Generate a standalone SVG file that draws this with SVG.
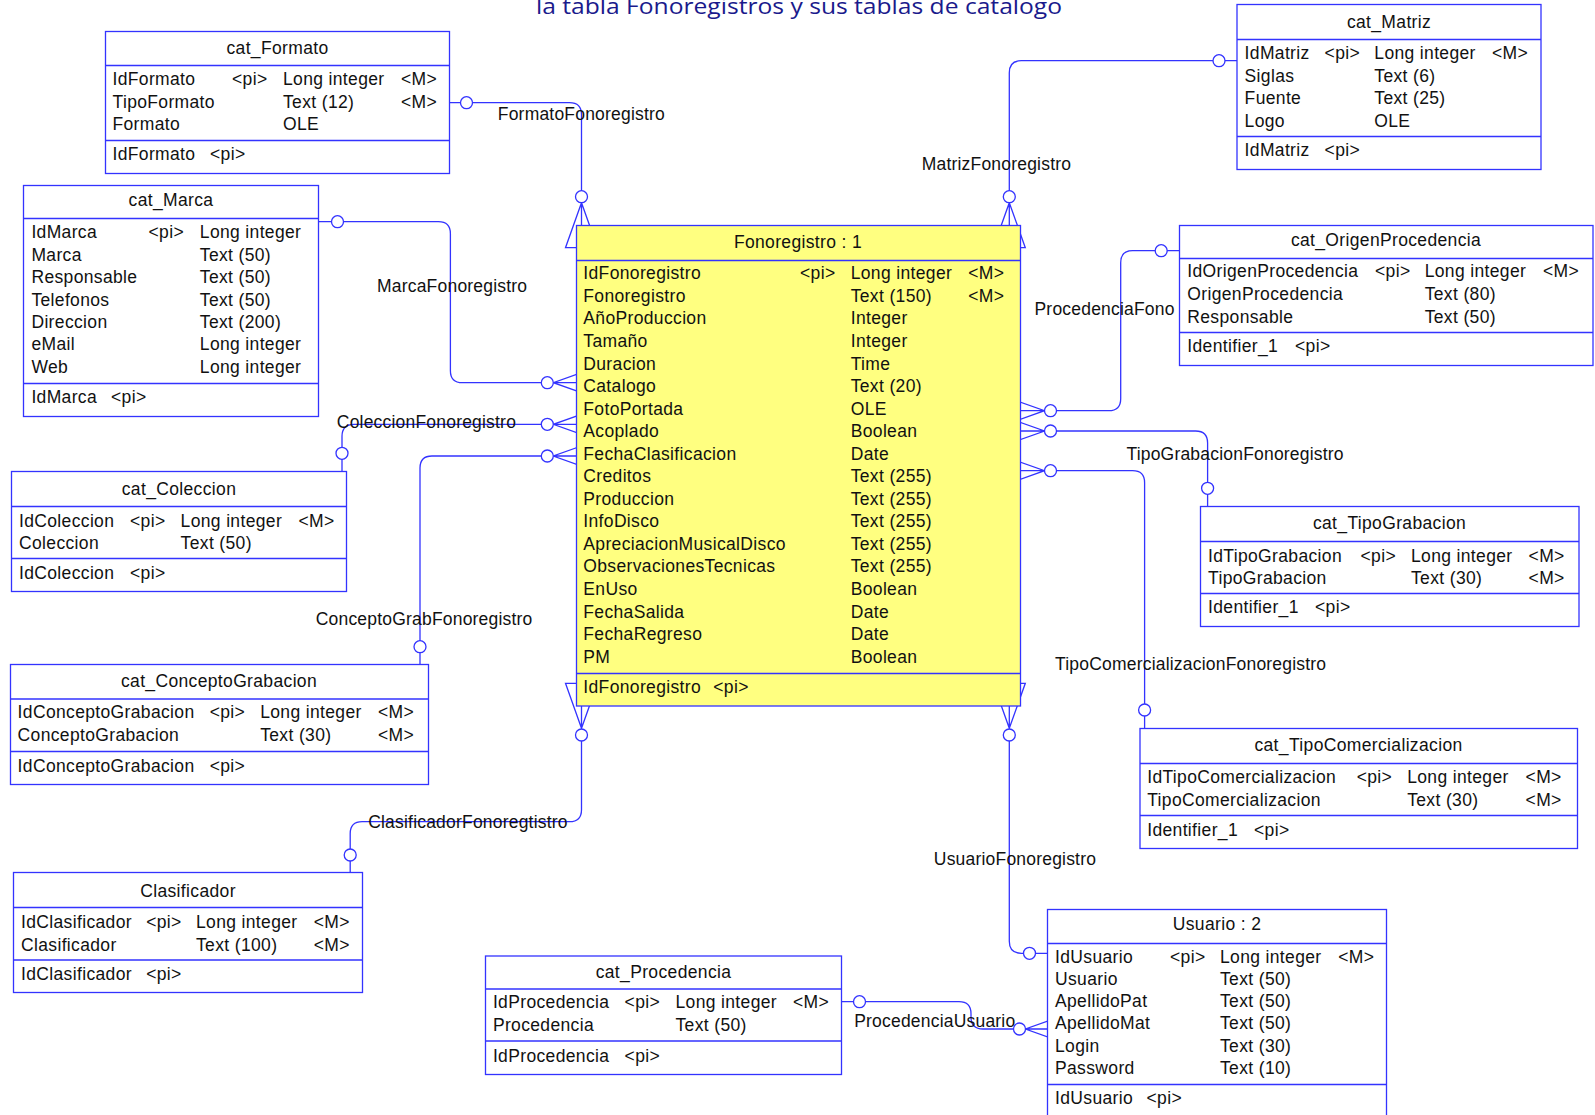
<svg xmlns="http://www.w3.org/2000/svg" xmlns:xlink="http://www.w3.org/1999/xlink" width="1595" height="1115" viewBox="0 0 1595 1115">
<style>
  text{font-family:"Liberation Sans",Arial,sans-serif;font-size:17.5px;letter-spacing:0.35px;fill:#111}
  .hd{text-anchor:middle}
  .lbl{letter-spacing:0.2px}
  .title{font-family:"Open Sans","Noto Sans",sans-serif;font-size:22px;letter-spacing:0;fill:#1a1a8c}
  .box{fill:#fff;stroke:#3333ff;stroke-width:1.3}
  .main{fill:#ffff80}
  .sep{stroke:#3333ff;stroke-width:1.3}
  .lnk{fill:none;stroke:#3333ff;stroke-width:1.3}
  .end{fill:#fff;stroke:#3333ff;stroke-width:1.3}
</style>
<defs>
  <!-- crow's foot: apex at origin, opening towards +x -->
  <path id="crow" class="lnk" d="M45,-16 L0,0 L45,16 Z M0,0 H45"/>
</defs>
<rect width="1595" height="1115" fill="#fff"/>

<text class="title" x="536" y="14" textLength="526" lengthAdjust="spacingAndGlyphs">la tabla Fonoregistros y sus tablas de catalogo</text>

<g id="connectors">
  <!-- FormatoFonoregistro -->
  <path class="lnk" d="M449.5,102.7 H569.5 Q581.5,102.7 581.5,114.7 V196"/>
  <use xlink:href="#crow" transform="translate(581.5,202.7) rotate(90)"/>
  <circle class="end" cx="466.5" cy="102.7" r="6"/>
  <circle class="end" cx="581.5" cy="196.7" r="6"/>
  <text class="lbl" x="497.8" y="120">FormatoFonoregistro</text>

  <!-- MarcaFonoregistro -->
  <path class="lnk" d="M318.5,221.7 H438.4 Q450.4,221.7 450.4,233.7 V370.7 Q450.4,382.7 462.4,382.7 H548"/>
  <use xlink:href="#crow" transform="translate(553.3,382.7)"/>
  <circle class="end" cx="337.5" cy="221.7" r="6"/>
  <circle class="end" cx="547.3" cy="382.7" r="6"/>
  <text class="lbl" x="377" y="291.7">MarcaFonoregistro</text>

  <!-- ColeccionFonoregistro -->
  <path class="lnk" d="M548,424.3 H354 Q342,424.3 342,436.3 V471.5"/>
  <use xlink:href="#crow" transform="translate(553.3,424.3)"/>
  <circle class="end" cx="547.3" cy="424.3" r="6"/>
  <circle class="end" cx="342" cy="453.3" r="6"/>
  <text class="lbl" x="336.8" y="428.3">ColeccionFonoregistro</text>

  <!-- ConceptoGrabFonoregistro -->
  <path class="lnk" d="M548,456 H432 Q420,456 420,468 V664.5"/>
  <use xlink:href="#crow" transform="translate(553.3,456)"/>
  <circle class="end" cx="547.3" cy="456" r="6"/>
  <circle class="end" cx="420" cy="646.7" r="6"/>
  <text class="lbl" x="315.7" y="625">ConceptoGrabFonoregistro</text>

  <!-- ClasificadorFonoregtistro -->
  <path class="lnk" d="M581.5,729 V809.7 Q581.5,821.7 569.5,821.7 H362.2 Q350.2,821.7 350.2,833.7 V872.5"/>
  <use xlink:href="#crow" transform="translate(581.5,728.3) rotate(-90)"/>
  <circle class="end" cx="581.5" cy="735" r="6"/>
  <circle class="end" cx="350.2" cy="855" r="6"/>
  <text class="lbl" x="368.2" y="828.3">ClasificadorFonoregtistro</text>

  <!-- MatrizFonoregistro -->
  <path class="lnk" d="M1009.3,196 V72.7 Q1009.3,60.7 1021.3,60.7 H1237"/>
  <use xlink:href="#crow" transform="translate(1009.3,202.7) rotate(90)"/>
  <circle class="end" cx="1009.3" cy="196.7" r="6"/>
  <circle class="end" cx="1219" cy="60.7" r="6"/>
  <text class="lbl" x="921.7" y="170">MatrizFonoregistro</text>

  <!-- ProcedenciaFonoregistro -->
  <path class="lnk" d="M1050,410.7 H1108.7 Q1120.7,410.7 1120.7,398.7 V262.7 Q1120.7,250.7 1132.7,250.7 H1179.5"/>
  <use xlink:href="#crow" transform="translate(1044.5,410.7) scale(-1,1)"/>
  <circle class="end" cx="1050.5" cy="410.7" r="6"/>
  <circle class="end" cx="1161.2" cy="250.7" r="6"/>
  <text class="lbl" x="1034.5" y="315">ProcedenciaFono</text>

  <!-- TipoGrabacionFonoregistro -->
  <path class="lnk" d="M1050,431 H1195.6 Q1207.6,431 1207.6,443 V506.5"/>
  <use xlink:href="#crow" transform="translate(1044.5,431) scale(-1,1)"/>
  <circle class="end" cx="1050.5" cy="431" r="6"/>
  <circle class="end" cx="1207.6" cy="488.3" r="6"/>
  <text class="lbl" x="1126.4" y="460">TipoGrabacionFonoregistro</text>

  <!-- TipoComercializacionFonoregistro -->
  <path class="lnk" d="M1050,470.7 H1132.6 Q1144.6,470.7 1144.6,482.7 V728.5"/>
  <use xlink:href="#crow" transform="translate(1044.5,470.7) scale(-1,1)"/>
  <circle class="end" cx="1050.5" cy="470.7" r="6"/>
  <circle class="end" cx="1144.6" cy="710" r="6"/>
  <text class="lbl" x="1055" y="670">TipoComercializacionFonoregistro</text>

  <!-- UsuarioFonoregistro -->
  <path class="lnk" d="M1009.3,729 V941.3 Q1009.3,953.3 1021.3,953.3 H1047.5"/>
  <use xlink:href="#crow" transform="translate(1009.3,728.3) rotate(-90)"/>
  <circle class="end" cx="1009.3" cy="735" r="6"/>
  <circle class="end" cx="1029.5" cy="953.3" r="6"/>
  <text class="lbl" x="933.8" y="865">UsuarioFonoregistro</text>

  <!-- ProcedenciaUsuario -->
  <path class="lnk" d="M841.5,1001.7 H959 Q971,1001.7 971,1013.7 V1017 Q971,1029 983,1029 H1019.5"/>
  <use xlink:href="#crow" transform="translate(1025.5,1029)"/>
  <circle class="end" cx="859.5" cy="1001.7" r="6"/>
  <circle class="end" cx="1019.5" cy="1029" r="6"/>
  <text class="lbl" x="854.2" y="1026.7">ProcedenciaUsuario</text>
</g>

<g id="cat_Formato">
  <rect class="box" x="105.5" y="31.5" width="344" height="142"/>
  <path class="sep" d="M105.5,65.5 H449.5 M105.5,140.5 H449.5"/>
  <text class="hd" x="277.5" y="54.3">cat_Formato</text>
  <text x="112.5" y="85">IdFormato</text><text x="232" y="85">&lt;pi&gt;</text><text x="283" y="85">Long integer</text><text x="401" y="85">&lt;M&gt;</text>
  <text x="112.5" y="107.7">TipoFormato</text><text x="283" y="107.7">Text (12)</text><text x="401" y="107.7">&lt;M&gt;</text>
  <text x="112.5" y="130.2">Formato</text><text x="283" y="130.2">OLE</text>
  <text x="112.5" y="160.3">IdFormato</text><text x="210" y="160.3">&lt;pi&gt;</text>
</g>

<g id="cat_Marca">
  <rect class="box" x="23.5" y="185.5" width="295" height="231"/>
  <path class="sep" d="M23.5,218.5 H318.5 M23.5,383.5 H318.5"/>
  <text class="hd" x="171" y="206">cat_Marca</text>
  <text x="31.4" y="238.3">IdMarca</text><text x="148.5" y="238.3">&lt;pi&gt;</text><text x="199.8" y="238.3">Long integer</text>
  <text x="31.4" y="260.7">Marca</text><text x="199.8" y="260.7">Text (50)</text>
  <text x="31.4" y="283.1">Responsable</text><text x="199.8" y="283.1">Text (50)</text>
  <text x="31.4" y="305.5">Telefonos</text><text x="199.8" y="305.5">Text (50)</text>
  <text x="31.4" y="327.9">Direccion</text><text x="199.8" y="327.9">Text (200)</text>
  <text x="31.4" y="350.3">eMail</text><text x="199.8" y="350.3">Long integer</text>
  <text x="31.4" y="372.7">Web</text><text x="199.8" y="372.7">Long integer</text>
  <text x="31.4" y="403.3">IdMarca</text><text x="111" y="403.3">&lt;pi&gt;</text>
</g>

<g id="cat_Coleccion">
  <rect class="box" x="11.5" y="471.5" width="335" height="120"/>
  <path class="sep" d="M11.5,506.5 H346.5 M11.5,558.5 H346.5"/>
  <text class="hd" x="179" y="495">cat_Coleccion</text>
  <text x="19" y="526.7">IdColeccion</text><text x="130" y="526.7">&lt;pi&gt;</text><text x="180.6" y="526.7">Long integer</text><text x="298.5" y="526.7">&lt;M&gt;</text>
  <text x="19" y="549.2">Coleccion</text><text x="180.6" y="549.2">Text (50)</text>
  <text x="19" y="579.3">IdColeccion</text><text x="130" y="579.3">&lt;pi&gt;</text>
</g>

<g id="cat_ConceptoGrabacion">
  <rect class="box" x="10.5" y="664.5" width="418" height="120"/>
  <path class="sep" d="M10.5,699 H428.5 M10.5,751.5 H428.5"/>
  <text class="hd" x="219" y="687.3">cat_ConceptoGrabacion</text>
  <text x="17.6" y="718.3">IdConceptoGrabacion</text><text x="209.7" y="718.3">&lt;pi&gt;</text><text x="260.2" y="718.3">Long integer</text><text x="378" y="718.3">&lt;M&gt;</text>
  <text x="17.6" y="741">ConceptoGrabacion</text><text x="260.2" y="741">Text (30)</text><text x="378" y="741">&lt;M&gt;</text>
  <text x="17.6" y="771.7">IdConceptoGrabacion</text><text x="209.7" y="771.7">&lt;pi&gt;</text>
</g>

<g id="Clasificador">
  <rect class="box" x="13.5" y="872.5" width="349" height="120"/>
  <path class="sep" d="M13.5,907.5 H362.5 M13.5,960 H362.5"/>
  <text class="hd" x="188" y="896.7">Clasificador</text>
  <text x="21" y="928.3">IdClasificador</text><text x="146.2" y="928.3">&lt;pi&gt;</text><text x="196" y="928.3">Long integer</text><text x="313.8" y="928.3">&lt;M&gt;</text>
  <text x="21" y="950.5">Clasificador</text><text x="196" y="950.5">Text (100)</text><text x="313.8" y="950.5">&lt;M&gt;</text>
  <text x="21" y="980">IdClasificador</text><text x="146.2" y="980">&lt;pi&gt;</text>
</g>

<g id="cat_Procedencia">
  <rect class="box" x="485.5" y="956" width="356" height="118.5"/>
  <path class="sep" d="M485.5,989 H841.5 M485.5,1041 H841.5"/>
  <text class="hd" x="663.5" y="977.7">cat_Procedencia</text>
  <text x="492.9" y="1008.3">IdProcedencia</text><text x="624.6" y="1008.3">&lt;pi&gt;</text><text x="675.5" y="1008.3">Long integer</text><text x="793" y="1008.3">&lt;M&gt;</text>
  <text x="492.9" y="1030.7">Procedencia</text><text x="675.5" y="1030.7">Text (50)</text>
  <text x="492.9" y="1061.7">IdProcedencia</text><text x="624.6" y="1061.7">&lt;pi&gt;</text>
</g>

<g id="Usuario">
  <rect class="box" x="1047.5" y="909.5" width="339" height="230"/>
  <path class="sep" d="M1047.5,943.5 H1386.5 M1047.5,1084.5 H1386.5"/>
  <text class="hd" x="1217" y="930">Usuario : 2</text>
  <text x="1055" y="962.7">IdUsuario</text><text x="1170" y="962.7">&lt;pi&gt;</text><text x="1220" y="962.7">Long integer</text><text x="1338.3" y="962.7">&lt;M&gt;</text>
  <text x="1055" y="984.9">Usuario</text><text x="1220" y="984.9">Text (50)</text>
  <text x="1055" y="1007.1">ApellidoPat</text><text x="1220" y="1007.1">Text (50)</text>
  <text x="1055" y="1029.3">ApellidoMat</text><text x="1220" y="1029.3">Text (50)</text>
  <text x="1055" y="1051.5">Login</text><text x="1220" y="1051.5">Text (30)</text>
  <text x="1055" y="1073.7">Password</text><text x="1220" y="1073.7">Text (10)</text>
  <text x="1055" y="1104.3">IdUsuario</text><text x="1146.5" y="1104.3">&lt;pi&gt;</text>
</g>

<g id="Fonoregistro">
  <rect class="box main" x="576.5" y="225.5" width="444" height="480.5"/>
  <path class="sep" d="M576.5,260.5 H1020.5 M576.5,673.5 H1020.5"/>
  <text class="hd" x="798" y="248.3">Fonoregistro : 1</text>
  <text x="583.3" y="279.3">IdFonoregistro</text><text x="800" y="279.3">&lt;pi&gt;</text><text x="850.7" y="279.3">Long integer</text><text x="968.3" y="279.3">&lt;M&gt;</text>
  <text x="583.3" y="301.9">Fonoregistro</text><text x="850.7" y="301.9">Text (150)</text><text x="968.3" y="301.9">&lt;M&gt;</text>
  <text x="583.3" y="324.4">AñoProduccion</text><text x="850.7" y="324.4">Integer</text>
  <text x="583.3" y="347">Tamaño</text><text x="850.7" y="347">Integer</text>
  <text x="583.3" y="369.5">Duracion</text><text x="850.7" y="369.5">Time</text>
  <text x="583.3" y="392">Catalogo</text><text x="850.7" y="392">Text (20)</text>
  <text x="583.3" y="414.6">FotoPortada</text><text x="850.7" y="414.6">OLE</text>
  <text x="583.3" y="437.1">Acoplado</text><text x="850.7" y="437.1">Boolean</text>
  <text x="583.3" y="459.7">FechaClasificacion</text><text x="850.7" y="459.7">Date</text>
  <text x="583.3" y="482.2">Creditos</text><text x="850.7" y="482.2">Text (255)</text>
  <text x="583.3" y="504.8">Produccion</text><text x="850.7" y="504.8">Text (255)</text>
  <text x="583.3" y="527.3">InfoDisco</text><text x="850.7" y="527.3">Text (255)</text>
  <text x="583.3" y="549.9">ApreciacionMusicalDisco</text><text x="850.7" y="549.9">Text (255)</text>
  <text x="583.3" y="572.4">ObservacionesTecnicas</text><text x="850.7" y="572.4">Text (255)</text>
  <text x="583.3" y="595">EnUso</text><text x="850.7" y="595">Boolean</text>
  <text x="583.3" y="617.5">FechaSalida</text><text x="850.7" y="617.5">Date</text>
  <text x="583.3" y="640.1">FechaRegreso</text><text x="850.7" y="640.1">Date</text>
  <text x="583.3" y="662.6">PM</text><text x="850.7" y="662.6">Boolean</text>
  <text x="583.3" y="693.3">IdFonoregistro</text><text x="713.3" y="693.3">&lt;pi&gt;</text>
</g>

<g id="cat_Matriz">
  <rect class="box" x="1237" y="4.5" width="304" height="165"/>
  <path class="sep" d="M1237,39.5 H1541 M1237,136.5 H1541"/>
  <text class="hd" x="1389" y="28.3">cat_Matriz</text>
  <text x="1244.6" y="59.3">IdMatriz</text><text x="1324.6" y="59.3">&lt;pi&gt;</text><text x="1374.3" y="59.3">Long integer</text><text x="1492" y="59.3">&lt;M&gt;</text>
  <text x="1244.6" y="81.7">Siglas</text><text x="1374.3" y="81.7">Text (6)</text>
  <text x="1244.6" y="104">Fuente</text><text x="1374.3" y="104">Text (25)</text>
  <text x="1244.6" y="126.5">Logo</text><text x="1374.3" y="126.5">OLE</text>
  <text x="1244.6" y="156">IdMatriz</text><text x="1324.6" y="156">&lt;pi&gt;</text>
</g>

<g id="cat_OrigenProcedencia">
  <rect class="box" x="1179.5" y="225.5" width="413.5" height="140"/>
  <path class="sep" d="M1179.5,258.5 H1593 M1179.5,332.5 H1593"/>
  <text class="hd" x="1386" y="246">cat_OrigenProcedencia</text>
  <text x="1187.3" y="277.3">IdOrigenProcedencia</text><text x="1375" y="277.3">&lt;pi&gt;</text><text x="1424.7" y="277.3">Long integer</text><text x="1543" y="277.3">&lt;M&gt;</text>
  <text x="1187.3" y="300">OrigenProcedencia</text><text x="1424.7" y="300">Text (80)</text>
  <text x="1187.3" y="322.5">Responsable</text><text x="1424.7" y="322.5">Text (50)</text>
  <text x="1187.3" y="352.3">Identifier_1</text><text x="1295" y="352.3">&lt;pi&gt;</text>
</g>

<g id="cat_TipoGrabacion">
  <rect class="box" x="1200.5" y="506.5" width="378.5" height="120"/>
  <path class="sep" d="M1200.5,541.5 H1579 M1200.5,593.5 H1579"/>
  <text class="hd" x="1389.5" y="529">cat_TipoGrabacion</text>
  <text x="1208" y="561.7">IdTipoGrabacion</text><text x="1360.5" y="561.7">&lt;pi&gt;</text><text x="1411" y="561.7">Long integer</text><text x="1528.6" y="561.7">&lt;M&gt;</text>
  <text x="1208" y="583.7">TipoGrabacion</text><text x="1411" y="583.7">Text (30)</text><text x="1528.6" y="583.7">&lt;M&gt;</text>
  <text x="1208" y="613.3">Identifier_1</text><text x="1315" y="613.3">&lt;pi&gt;</text>
</g>

<g id="cat_TipoComercializacion">
  <rect class="box" x="1140" y="728.5" width="437.5" height="120"/>
  <path class="sep" d="M1140,763.5 H1577.5 M1140,815.5 H1577.5"/>
  <text class="hd" x="1358.5" y="751">cat_TipoComercializacion</text>
  <text x="1147.2" y="783.3">IdTipoComercializacion</text><text x="1356.7" y="783.3">&lt;pi&gt;</text><text x="1407.2" y="783.3">Long integer</text><text x="1525.6" y="783.3">&lt;M&gt;</text>
  <text x="1147.2" y="805.7">TipoComercializacion</text><text x="1407.2" y="805.7">Text (30)</text><text x="1525.6" y="805.7">&lt;M&gt;</text>
  <text x="1147.2" y="835.7">Identifier_1</text><text x="1254" y="835.7">&lt;pi&gt;</text>
</g>
</svg>
